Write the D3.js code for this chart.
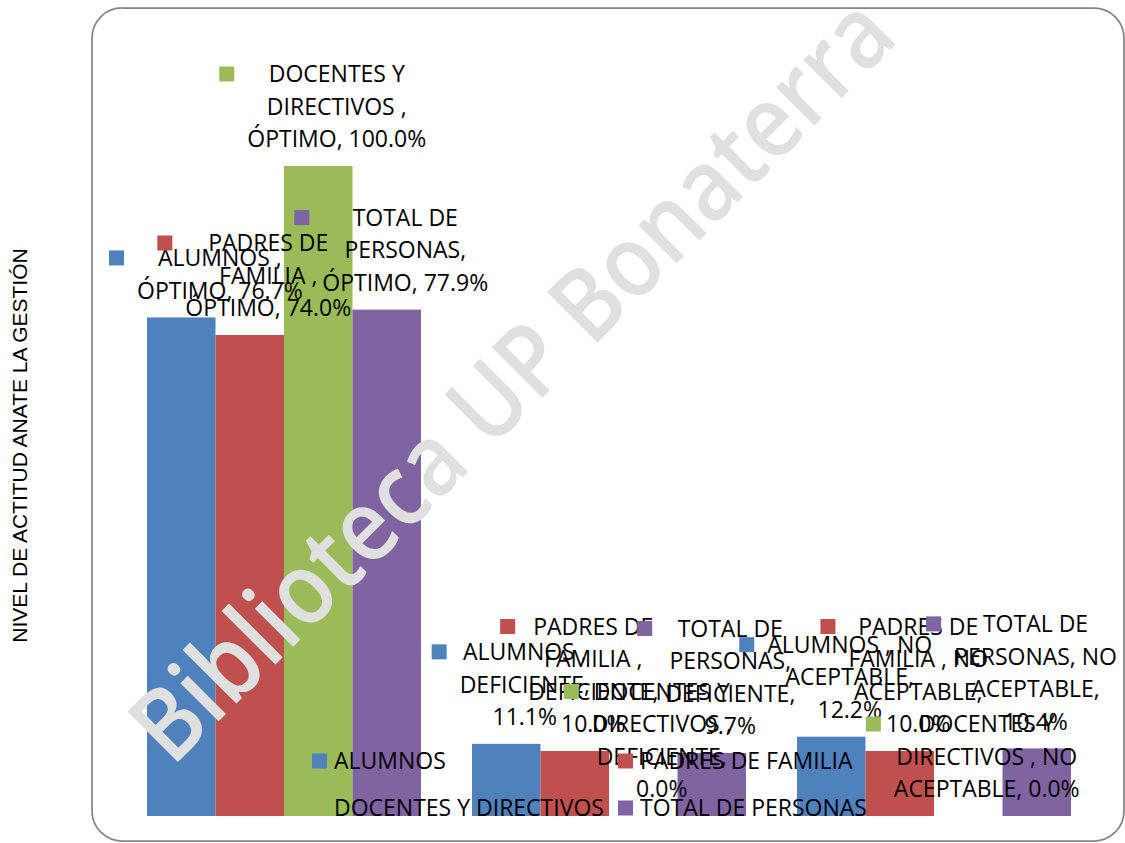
<!DOCTYPE html>
<html>
<head>
<meta charset="utf-8">
<script src="https://cdn.jsdelivr.net/npm/d3@7"></script>
<style>
  body { margin: 0; background: #fff; }
  svg { display: block; }
</style>
</head>
<body>
<div id="chart"></div>
<script>
// categories and series
var categories = ['ÓPTIMO', 'DEFICIENTE', 'NO ACEPTABLE'];
var series = ['ALUMNOS', 'PADRES DE FAMILIA', 'DOCENTES Y DIRECTIVOS', 'TOTAL DE PERSONAS'];
var colors = ['#4F81BD', '#C0504D', '#9BBB59', '#8064A2'];

// one row per series, one value per category
var alumnos  = [0.767, 0.111, 0.122];
var padres   = [0.740, 0.100, 0.100];
var docentes = [1.000, 0.000, 0.000];
var total    = [0.779, 0.097, 0.104];
var values = [alumnos, padres, docentes, total];

// data label text, with the line breaks the original shows ({v} = value)
var labelLines = [
  ['ALUMNOS ,|ÓPTIMO, {v}', 'ALUMNOS ,|DEFICIENTE,|{v}', 'ALUMNOS , NO|ACEPTABLE,|{v}'],
  ['PADRES DE|FAMILIA ,|ÓPTIMO, {v}', 'PADRES DE|FAMILIA ,|DEFICIENTE,|{v}', 'PADRES DE|FAMILIA , NO|ACEPTABLE,|{v}'],
  ['DOCENTES Y|DIRECTIVOS ,|ÓPTIMO, {v}', 'DOCENTES Y|DIRECTIVOS ,|DEFICIENTE,|{v}', 'DOCENTES Y|DIRECTIVOS , NO|ACEPTABLE, {v}'],
  ['TOTAL DE|PERSONAS,|ÓPTIMO, {v}', 'TOTAL DE|PERSONAS,|DEFICIENTE,|{v}', 'TOTAL DE|PERSONAS, NO|ACEPTABLE,|{v}']
];

var yTitle = 'NIVEL DE ACTITUD ANATE LA GESTIÓN';
var watermark = 'Biblioteca UP Bonaterra';

var width = 1125, height = 843;
var fmt = d3.format('.1%');
var labelFont = '"Open Sans", sans-serif';

var svg = d3.select('#chart').append('svg')
  .attr('width', width)
  .attr('height', height);

// chart area frame
svg.append('rect')
  .attr('x', 92).attr('y', 8)
  .attr('width', 1032).attr('height', 833)
  .attr('rx', 30).attr('ry', 30)
  .attr('fill', '#fff')
  .attr('stroke', '#868686')
  .attr('stroke-width', 1.75);

// y axis title, sits outside the frame
svg.append('text')
  .attr('transform', 'translate(27,445.5) rotate(-90)')
  .attr('text-anchor', 'middle')
  .attr('font-family', '"Liberation Sans", Arial, sans-serif')
  .attr('font-size', 21)
  .attr('fill', '#000')
  .text(yTitle);

var x0 = d3.scaleBand()
  .domain(categories)
  .range([121.5, 1096.5])
  .paddingInner(51 / 325)
  .paddingOuter(51 / 650);

var x1 = d3.scaleBand()
  .domain(series)
  .range([0, x0.bandwidth()]);

var y = d3.scaleLinear()
  .domain([0, 1])
  .range([816, 166]);

// flatten into one record per bar
var bars = [];
series.forEach(function(s, i){
  categories.forEach(function(c, j){
    bars.push({ s: s, i: i, c: c, j: j, v: values[i][j] });
  });
});

svg.append('g').selectAll('rect').data(bars)
  .enter().append('rect')
  .attr('x', function(d){ return x0(d.c) + x1(d.s); })
  .attr('y', function(d){ return y(d.v); })
  .attr('width', x1.bandwidth())
  .attr('height', function(d){ return y(0) - y(d.v); })
  .attr('fill', function(d){ return colors[d.i]; });

// watermark goes over the bars
svg.append('text')
  .attr('transform', 'translate(172,768) rotate(-45)')
  .attr('font-family', '"Open Sans", sans-serif')
  .attr('font-size', 100)
  .attr('font-weight', 600)
  .attr('fill', '#e0e0e0')
  .attr('textLength', 1030)
  .attr('lengthAdjust', 'spacingAndGlyphs')
  .text(watermark);

// data labels: legend key + wrapped text above each bar
var fontSize = 23, lineH = 32.5, capHalf = 0.357 * 23;
var labelMinX = 109, labelMaxX = 1117;
var labels = svg.append('g')
  .attr('font-family', labelFont)
  .attr('font-size', fontSize)
  .attr('fill', '#000');

bars.forEach(function(d){
  var lines = labelLines[d.i][d.j].replace('{v}', fmt(d.v)).split('|');
  var cx = x0(d.c) + x1(d.s) + x1.bandwidth() / 2 + 18.5;
  var lastY = y(d.v) - 27;
  var firstY = lastY - (lines.length - 1) * lineH;

  var g = labels.append('g');
  var t = g.append('text').attr('text-anchor', 'middle');
  lines.forEach(function(l, k){
    t.append('tspan')
      .attr('x', cx)
      .attr('y', firstY + k * lineH + capHalf)
      .text(l);
  });
  var maxW = 0;
  t.selectAll('tspan').each(function(){
    maxW = Math.max(maxW, this.getComputedTextLength());
  });
  // keep the label box inside the plot
  var keyX = cx - maxW / 2 - 28;
  var shift = 0;
  if (keyX < labelMinX) shift = labelMinX - keyX;
  if (cx + maxW / 2 > labelMaxX) shift = labelMaxX - (cx + maxW / 2);
  g.append('rect')
    .attr('x', keyX + shift)
    .attr('y', firstY - 7.5)
    .attr('width', 15).attr('height', 15)
    .attr('fill', colors[d.i]);
  if (shift) t.selectAll('tspan').attr('x', cx + shift);
});

// legend, two columns by two rows, over the plot
var legendX = [312, 618], legendY = [761, 808];
var legend = svg.append('g')
  .attr('font-family', labelFont)
  .attr('font-size', fontSize);

series.forEach(function(s, i){
  var lx = legendX[i % 2], ly = legendY[Math.floor(i / 2)];
  legend.append('rect')
    .attr('x', lx).attr('y', ly - 7.5)
    .attr('width', 15).attr('height', 15)
    .attr('fill', colors[i]);
  legend.append('text')
    .attr('x', lx + 22)
    .attr('y', ly + capHalf)
    .attr('fill', '#000')
    .text(s);
});
</script>
</body>
</html>
